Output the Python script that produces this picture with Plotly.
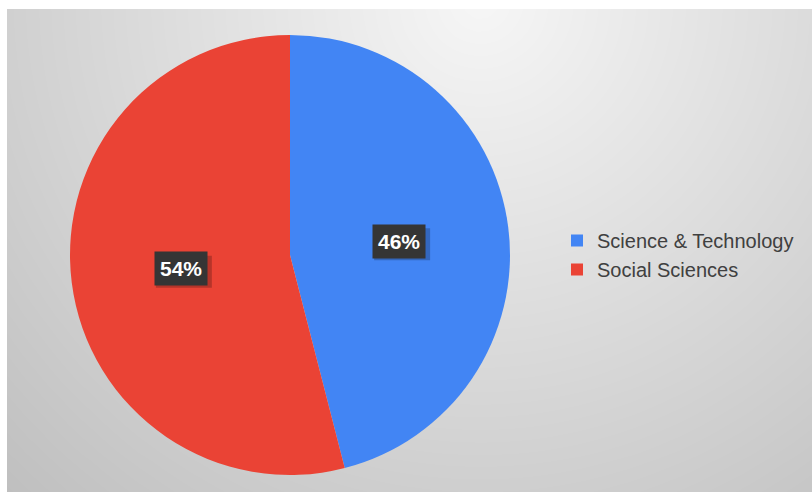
import math
import numpy as np
import plotly.graph_objects as go

# Share of enrolments by field
categories = ["Science & Technology", "Social Sciences"]
shares = [46, 54]
colors = ["#4285F4", "#EA4335"]

W, H = 812, 493

# Pie geometry (pixels): centre and radius
cx_px, cy_px, r_px = 290, 255, 220
pie_dom_x = [(cx_px - r_px) / W, (cx_px + r_px) / W]
pie_dom_y = [(H - (cy_px + r_px)) / H, (H - (cy_px - r_px)) / H]

fig = go.Figure()

# Soft radial grey backdrop, drawn as a smoothed heatmap behind the pie
gx = np.linspace(7, W, 80)
gy = np.linspace(9, H - 1, 50)
GX, GY = np.meshgrid(gx, gy)
d = np.sqrt(((GX - 480) / 560) ** 2 + ((GY - 0) / 560) ** 2)
shade = 246 - 45 * d
fig.add_trace(go.Heatmap(
    x=gx, y=gy, z=shade, zsmooth="best", showscale=False, hoverinfo="skip",
    colorscale=[[0, "rgb(180,180,180)"], [1, "rgb(250,250,250)"]],
    zmin=180, zmax=250, xaxis="x", yaxis="y",
))

fig.add_trace(go.Pie(
    labels=categories,
    values=shares,
    marker=dict(colors=colors, line=dict(width=0)),
    sort=False,
    direction="clockwise",
    rotation=0,
    textinfo="none",
    hoverinfo="label+percent",
    domain=dict(x=pie_dom_x, y=pie_dom_y),
))

# Percentage labels in dark boxes at half the radius along each slice's mid-angle
total = sum(shares)
start = 0.0
for val in shares:
    frac = val / total
    mid = (start + frac / 2) * 2 * math.pi
    start += frac
    lx = cx_px + 0.5 * r_px * math.sin(mid)
    ly = cy_px - 0.5 * r_px * math.cos(mid)
    px, py = lx / W, (H - ly) / H
    # drop shadow behind the label box
    fig.add_shape(type="rect", xref="paper", yref="paper",
                  xsizemode="pixel", ysizemode="pixel",
                  xanchor=px, yanchor=py,
                  x0=-25, x1=31, y0=-19, y1=13,
                  fillcolor="rgba(0,0,0,0.22)", line=dict(width=0),
                  layer="above")
    fig.add_annotation(text=f"<b>{round(100 * frac)}%</b>", x=px, y=py,
                       xref="paper", yref="paper", showarrow=False,
                       xanchor="center", yanchor="middle",
                       bgcolor="#353535", borderpad=5,
                       font=dict(family="Liberation Sans, Arial", size=21,
                                 color="white"))

fig.update_layout(
    width=W, height=H,
    margin=dict(l=0, r=0, t=0, b=0),
    paper_bgcolor="white",
    plot_bgcolor="rgba(0,0,0,0)",
    xaxis=dict(domain=[7 / W, 1], range=[7, W], visible=False, fixedrange=True),
    yaxis=dict(domain=[1 / H, 1 - 9 / H], range=[H - 1, 9], visible=False,
               fixedrange=True),
    showlegend=True,
    legend=dict(
        x=(597 - 40) / W, xanchor="left",
        y=(H - 255) / H, yanchor="middle",
        bgcolor="rgba(0,0,0,0)",
        font=dict(family="Liberation Sans, Arial", size=20, color="#404040"),
    ),
)

fig.write_html("out.html")
